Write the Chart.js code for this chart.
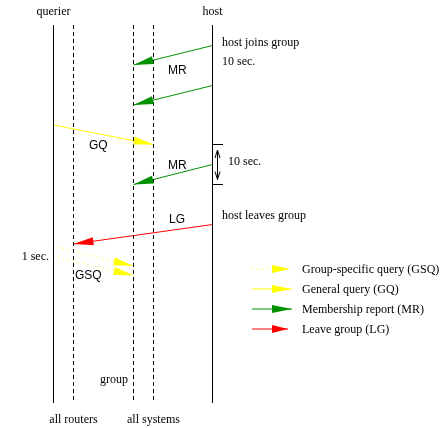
<!DOCTYPE html>
<html>
<head>
<meta charset="utf-8">
<script src="https://cdn.jsdelivr.net/npm/chart.js@4/dist/chart.umd.min.js"></script>
<style>
  html, body { margin: 0; padding: 0; background: #fff; }
  canvas { display: block; }
</style>
</head>
<body>
<canvas id="igmp" width="441" height="428"></canvas>
<script>
// lifelines (lanes) of the sequence diagram
const laneNames = ['querier', 'all routers', 'group', 'all systems', 'host'];
const laneX = [53.5, 73.5, 133.5, 153.5, 212.5];
const laneSolid = [true, false, false, false, true];
const laneTop = 25;
const laneBottom = 403;

// messages: lane from -> lane to, time at start and at arrival
const msgLabels = ['MR', 'MR', 'GQ', 'MR', 'LG', 'GSQ', 'GSQ'];
const msgKind = ['MR', 'MR', 'GQ', 'MR', 'LG', 'GSQ', 'GSQ'];
const msgFrom = [4, 4, 0, 4, 4, 0, 0];
const msgTo = [2, 2, 3, 2, 1, 2, 2];
const msgStart = [45.5, 85.5, 125, 164.5, 224.5, 246.5, 256.5];
const msgEnd = [65, 105, 144.5, 184.5, 244, 266, 275.5];

// legend entries
const legendKinds = ['GSQ', 'GQ', 'MR', 'LG'];
const legendTexts = ['Group-specific query (GSQ)', 'General query (GQ)', 'Membership report (MR)', 'Leave group (LG)'];
const legendTip = [290, 291.5, 292, 288];

const kindColor = { GSQ: '#ffff00', GQ: '#ffff00', MR: '#009000', LG: '#ff0000' };
const kindDash = { GSQ: [1, 4], GQ: [], MR: [], LG: [] };

const serif = '12px "Liberation Serif", "Times New Roman", serif';
const sans = '12px "Liberation Sans", Arial, sans-serif';

const datasets = [];

laneX.forEach((x, i) => {
    datasets.push({
        label: laneNames[i],
        data: [{ x: x, y: laneTop }, { x: x, y: laneBottom }],
        showLine: true,
        borderColor: '#000',
        borderWidth: 1,
        borderDash: laneSolid[i] ? [] : [4, 3],
        pointRadius: 0,
        kind: 'lane'
    });
});

msgLabels.forEach((label, i) => {
    datasets.push({
        label: label,
        data: [{ x: laneX[msgFrom[i]], y: msgStart[i] }, { x: laneX[msgTo[i]], y: msgEnd[i] }],
        showLine: true,
        borderColor: kindColor[msgKind[i]],
        borderWidth: 1,
        borderDash: kindDash[msgKind[i]],
        pointRadius: 0,
        kind: 'msg'
    });
});

// legend sample arrows
legendKinds.forEach((k, i) => {
    const y = 269.5 + i * 20;
    datasets.push({
        label: legendTexts[i],
        data: [{ x: 252, y: y - 0.5 }, { x: legendTip[i], y: y - 0.5 }],
        showLine: true,
        borderColor: kindColor[k],
        borderWidth: 1,
        borderDash: kindDash[k],
        pointRadius: 0,
        kind: 'key'
    });
});

function arrowHead(ctx, x1, y1, x2, y2, len, half, color) {
    const a = Math.atan2(y2 - y1, x2 - x1);
    const bx = x2 - len * Math.cos(a), by = y2 - len * Math.sin(a);
    const px = -Math.sin(a) * half, py = Math.cos(a) * half;
    ctx.fillStyle = color;
    ctx.beginPath();
    ctx.moveTo(x2, y2);
    ctx.lineTo(bx + px, by + py);
    ctx.lineTo(bx - px, by - py);
    ctx.closePath();
    ctx.fill();
}

// text labels (x, y in chart units)
const annotations = [
    { t: 'querier', x: 53.5, y: 12, font: serif, align: 'center' },
    { t: 'host', x: 212.5, y: 12, font: serif, align: 'center' },
    { t: 'host joins group', x: 222, y: 43, font: serif, align: 'left' },
    { t: '10 sec.', x: 222, y: 61.5, font: serif, align: 'left' },
    { t: 'MR', x: 168, y: 71, font: sans, align: 'left' },
    { t: 'GQ', x: 89, y: 146, font: sans, align: 'left' },
    { t: 'MR', x: 168, y: 166, font: sans, align: 'left' },
    { t: '10 sec.', x: 228, y: 161.5, font: serif, align: 'left' },
    { t: 'host leaves group', x: 222, y: 215.5, font: serif, align: 'left' },
    { t: 'LG', x: 169, y: 220, font: sans, align: 'left' },
    { t: '1 sec.', x: 49, y: 256.5, font: serif, align: 'right' },
    { t: 'GSQ', x: 75, y: 275.5, font: sans, align: 'left' },
    { t: 'group', x: 128, y: 380, font: serif, align: 'right' },
    { t: 'all routers', x: 73.5, y: 420, font: serif, align: 'center' },
    { t: 'all systems', x: 153.5, y: 420, font: serif, align: 'center' }
];

const diagramPlugin = {
    id: 'diagram',
    afterDatasetsDraw(chart) {
        const ctx = chart.ctx;
        const xs = chart.scales.x, ys = chart.scales.y;
        const X = v => xs.getPixelForValue(v), Y = v => ys.getPixelForValue(v);
        ctx.save();

        // arrow heads on messages and legend samples
        chart.data.datasets.forEach((ds, i) => {
            if (ds.kind === 'lane') return;
            const pts = chart.getDatasetMeta(i).data;
            const len = ds.kind === 'key' ? pts[1].x - X(272) : 20;
            arrowHead(ctx, pts[0].x, pts[0].y, pts[1].x, pts[1].y, len, 4, ds.borderColor);
            if (ds.kind === 'key') {
                ctx.fillStyle = '#000';
                ctx.font = serif;
                ctx.textAlign = 'left';
                ctx.textBaseline = 'middle';
                ctx.fillText(ds.label, X(302), pts[1].y + 1);
            }
        });

        // 10 sec. bracket on host line
        ctx.strokeStyle = '#000';
        ctx.lineWidth = 1;
        ctx.setLineDash([]);
        ctx.beginPath();
        ctx.moveTo(X(212.5), Y(144.5)); ctx.lineTo(X(223), Y(144.5));
        ctx.moveTo(X(212.5), Y(184.5)); ctx.lineTo(X(223), Y(184.5));
        ctx.moveTo(X(217.5), Y(150)); ctx.lineTo(X(217.5), Y(179.5));
        ctx.moveTo(X(215), Y(158)); ctx.lineTo(X(217.5), Y(150)); ctx.lineTo(X(220), Y(158));
        ctx.moveTo(X(215), Y(171.5)); ctx.lineTo(X(217.5), Y(179.5)); ctx.lineTo(X(220), Y(171.5));
        ctx.stroke();

        // texts
        ctx.fillStyle = '#000';
        ctx.textBaseline = 'middle';
        annotations.forEach(a => {
            ctx.font = a.font;
            ctx.textAlign = a.align;
            ctx.fillText(a.t, X(a.x), Y(a.y));
        });
        ctx.restore();
    }
};

new Chart(document.getElementById('igmp'), {
    type: 'scatter',
    data: { datasets: datasets },
    options: {
        responsive: false,
        animation: false,
        layout: { padding: 0 },
        scales: {
            x: { type: 'linear', min: 0, max: 441, display: false },
            y: { type: 'linear', min: 0, max: 428, reverse: true, display: false }
        },
        plugins: {
            legend: { display: false },
            tooltip: { enabled: false }
        }
    },
    plugins: [diagramPlugin]
});
</script>
</body>
</html>
